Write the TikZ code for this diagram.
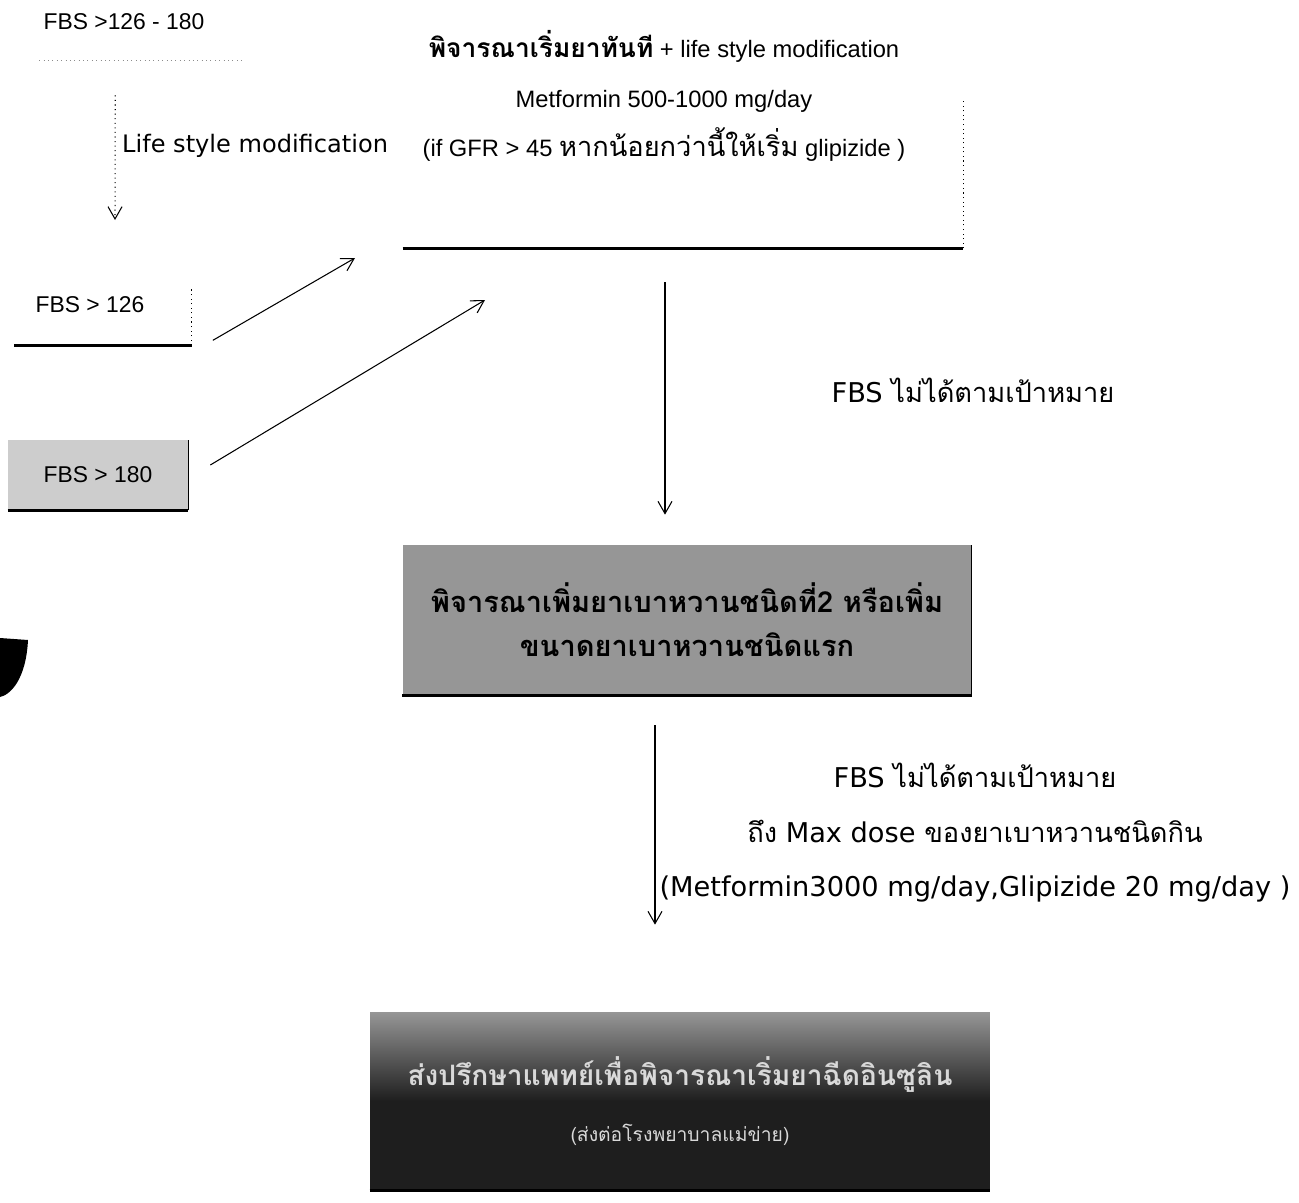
\documentclass[tikz,border=0pt]{standalone}
\usepackage{fontspec}
\setmainfont{Liberation Sans}
\newfontfamily\thai[Script=Thai]{Loma}
\newfontfamily\tahoma{DejaVu Sans}
\usetikzlibrary{arrows.meta,positioning,calc}
\definecolor{scanmid}{RGB}{150,150,150}
\definecolor{scanlight}{RGB}{205,205,205}
\definecolor{scandark}{RGB}{30,30,30}
\tikzset{
  plainbox/.style={rectangle, inner sep=0pt, minimum width=#1},
  lowedge/.style={line width=1.8pt, black},
  sideedge/.style={line width=0.6pt, black},
  faint/.style={line width=0.5pt, black!45, dotted},
  arr/.style={-{Straight Barb[length=7pt,width=8pt]}, line width=0.6pt},
  note/.style={font=\tahoma\fontsize{15.5}{31}\selectfont, align=center}
}

\begin{document}
\begin{tikzpicture}[x=0.02cm, y=-0.02cm]
  \useasboundingbox (0,0) rectangle (1299,1203);
  % first step
  \node[plainbox=4.1cm, minimum height=1.2cm] (fbsrange) at (142,30) {};
  \node[font=\fontsize{13}{15}\selectfont] at (124,22) {FBS >126 - 180};
  \draw[faint] (fbsrange.south west) -- (fbsrange.south east);
  \coordinate (lifeend) at (115,220);
  \draw[arr, dotted] ($(fbsrange.south west)!0.37!(fbsrange.south east)+(0,35)$) -- (lifeend);
  \node[font=\tahoma\fontsize{13.7}{16}\selectfont, anchor=west] (life) at (116,146) {Life style modification};

  \node[plainbox=11.2cm, minimum height=4.4cm] (startbox) at (683,138) {};
  \node[font=\fontsize{13.5}{28}\selectfont, align=center] (starttext) at (664,96)
    {{\thai\bfseries\fontsize{15}{28}\selectfont พิจารณาเริ่มยาทันที} + life style modification\\
     Metformin 500-1000 mg/day\\
     (if GFR > 45 {\thai\fontsize{15.5}{28}\selectfont หากน้อยกว่านี้ให้เริ่ม} glipizide )};
  \draw[lowedge] (startbox.south west) -- (startbox.south east);
  \draw[sideedge, dotted] (startbox.south east) -- ++(0,-150);

  \node[plainbox=3.54cm, minimum height=1.16cm] (fbsmid) at (103,316) {};
  \node[font=\fontsize{13}{15}\selectfont] at (90,305) {FBS > 126};
  \draw[lowedge] (fbsmid.south west) -- (fbsmid.south east);
  \draw[sideedge, dotted] (fbsmid.south east) -- (fbsmid.north east);

  \node[plainbox=3.6cm, minimum height=1.4cm, fill=scanlight, font=\fontsize{13}{15}\selectfont] (fbshigh) at (98,475) {FBS > 180};
  \draw[lowedge] (fbshigh.south west) -- (fbshigh.south east);
  \draw[sideedge] (fbshigh.south east) -- (fbshigh.north east);

  \coordinate (midend) at (355,258);
  \coordinate (highend) at (485,300);
  \draw[arr] ($(fbsmid.south east)+(21,-5)$) -- (midend);
  \draw[arr] ($(fbshigh.east)+(22,-10)$) -- (highend);

  % second step
  \node[plainbox=11.38cm, minimum height=3cm, fill=scanmid, align=center,
        font=\thai\bfseries\fontsize{16.5}{25}\selectfont] (addbox) at (687,620)
    {พิจารณาเพิ่มยาเบาหวานชนิดที่2 หรือเพิ่ม\\ขนาดยาเบาหวานชนิดแรก};
  \draw[lowedge] (addbox.south west) -- (addbox.south east);
  \draw[sideedge] (addbox.south east) -- (addbox.north east);

  \draw[arr] ([shift={(-18,34)}]startbox.south) -- ([shift={(-22,-30)}]addbox.north);
  \node[note] (miss1) at (973,390) {FBS {\thai ไม่ได้ตามเป้าหมาย}};

  % third step
  \node[plainbox=12.4cm, minimum height=3.56cm, top color=scanmid, bottom color=scandark,
        middle color=scandark, align=center, text=black!15,
        font=\thai\bfseries\fontsize{16}{32}\selectfont] (insulinbox) at (680,1101)
    {ส่งปรึกษาแพทย์เพื่อพิจารณาเริ่มยาฉีดอินซูลิน\\
     {\mdseries\fontsize{11}{14}\selectfont (ส่งต่อโรงพยาบาลแม่ข่าย)}};
  \draw[lowedge] (insulinbox.south west) -- (insulinbox.south east);

  \draw[arr] ([shift={(-32,30)}]addbox.south) -- ([shift={(-25,-87)}]insulinbox.north);
  \node[note] (miss2) at (975,833)
    {FBS {\thai ไม่ได้ตามเป้าหมาย}\\
     {\thai ถึง} Max dose {\thai ของยาเบาหวานชนิดกิน}\\
     (Metformin3000 mg/day,Glipizide 20 mg/day )};

  \fill (0,638) -- (28,640) .. controls (26,680) and (10,695) .. (0,697) -- cycle;
\end{tikzpicture}
\end{document}
